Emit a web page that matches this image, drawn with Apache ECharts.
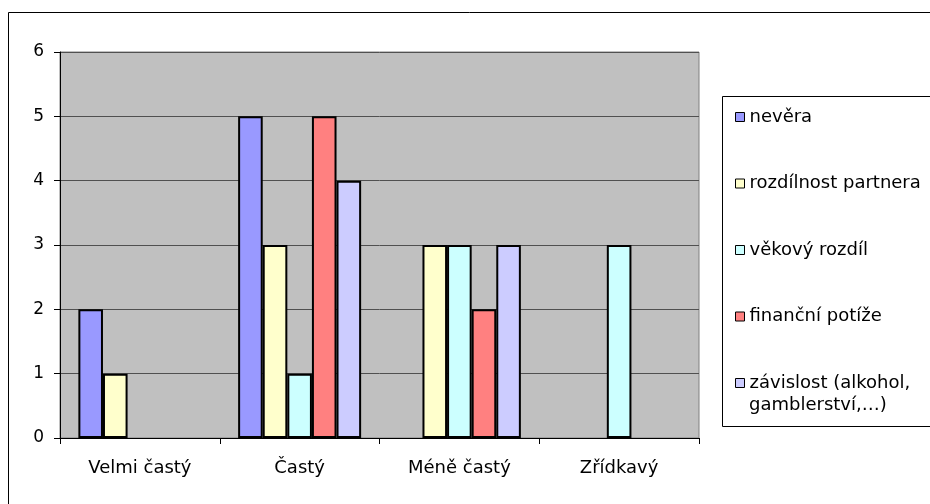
<!DOCTYPE html>
<html>
<head>
<meta charset="utf-8">
<script src="https://cdn.jsdelivr.net/npm/echarts@6/dist/echarts.min.js"></script>
<style>html,body{margin:0;padding:0;background:#fff;}#c{width:930px;height:504px;}</style>
</head>
<body>
<div id="c"></div>
<script>
const categories = ['Velmi častý', 'Častý', 'Méně častý', 'Zřídkavý'];
const seriesNames = ['nevěra', 'rozdílnost partnera', 'věkový rozdíl', 'finanční potíže', 'závislost (alkohol,\ngamblerství,…)'];
const nevera = [2, 5, null, null];
const rozdilnost = [1, 3, 3, null];
const vekovy = [null, 1, 3, 3];
const financni = [null, 5, 2, null];
const zavislost = [null, 4, 3, null];
const yTicks = [0, 1, 2, 3, 4, 5, 6];
const colors = ['#9999FF', '#FFFFCC', '#CCFFFF', '#FF8080', '#CCCCFF'];

const seriesData = [nevera, rozdilnost, vekovy, financni, zavislost];
const chart = echarts.init(document.getElementById('c'), null, {renderer: 'canvas'});
const font = 'DejaVu Sans';
const lastName = seriesNames[seriesNames.length - 1].split('\n');
chart.setOption({
  animation: false,
  backgroundColor: '#ffffff',
  textStyle: {fontFamily: font},
  graphic: [
    {type: 'rect', shape: {x: 8.5, y: 12.5, width: 1000, height: 1000}, style: {fill: 'none', stroke: '#000', lineWidth: 1}, z: -10},
    {type: 'rect', shape: {x: 722.5, y: 96.5, width: 300, height: 330}, style: {fill: '#fff', stroke: '#000', lineWidth: 1}, z: -5},
    {type: 'text', left: 749, top: 396, style: {text: lastName.slice(1).join('\n'), font: '18px "DejaVu Sans"', fill: '#000'}}
  ],
  grid: {left: 60, right: 231, top: 52, bottom: 66, show: true, backgroundColor: '#C0C0C0', borderColor: '#808080', borderWidth: 1},
  legend: {
    orient: 'vertical', left: 730, top: 101,
    itemWidth: 9, itemHeight: 9, itemGap: 44.5,
    icon: 'rect',
    data: seriesNames,
    formatter: n => n.split('\n')[0],
    textStyle: {fontFamily: font, fontSize: 18, color: '#000', lineHeight: 22},
    itemStyle: {borderColor: '#000', borderWidth: 1}
  },
  xAxis: {
    type: 'category', data: categories,
    axisLine: {lineStyle: {color: '#000', width: 1}},
    axisTick: {show: true, length: 6, lineStyle: {color: '#000'}},
    axisLabel: {fontFamily: font, fontSize: 18, color: '#000', margin: 21}
  },
  yAxis: {
    type: 'value', min: 0, max: 6, interval: 1,
    axisLine: {show: true, lineStyle: {color: '#000', width: 1}},
    axisTick: {show: true, length: 6, lineStyle: {color: '#000'}},
    axisLabel: {fontFamily: font, fontSize: 17, color: '#000', margin: 16,
      formatter: v => yTicks.includes(v) ? String(v) : ''},
    splitLine: {show: true, lineStyle: {color: '#505050', width: 1}}
  },
  series: seriesNames.map((n, i) => ({
    name: n, type: 'bar', data: seriesData[i],
    barGap: '0%', barCategoryGap: '23%',
    itemStyle: {color: colors[i], borderColor: '#000', borderWidth: 2}
  }))
});
</script>
</body>
</html>
